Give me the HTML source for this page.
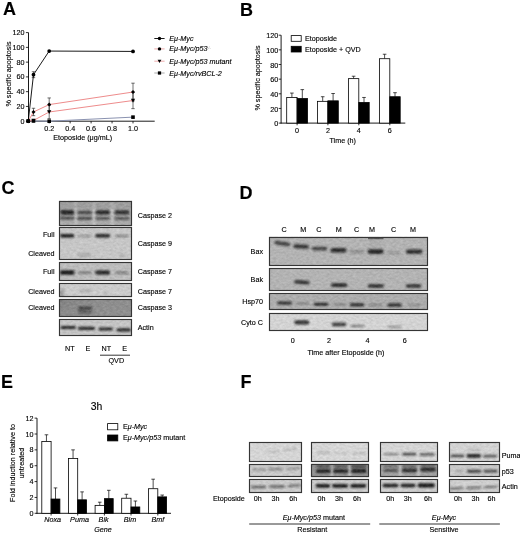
<!DOCTYPE html>
<html><head><meta charset="utf-8"><title>Figure</title>
<style>html,body{margin:0;padding:0;background:#fff;width:520px;height:533px;overflow:hidden}svg{display:block}text{stroke:#000;stroke-width:0.13px;fill:#000}</style>
</head><body>
<svg width="520" height="533" viewBox="0 0 520 533" font-family='"Liberation Sans", Arial, sans-serif'><defs><filter id="nz" x="0" y="0" width="1" height="1" color-interpolation-filters="sRGB"><feTurbulence type="fractalNoise" baseFrequency="0.3 0.5" numOctaves="2" seed="7" result="t"/><feColorMatrix in="t" type="matrix" values="1 0 0 0 0  1 0 0 0 0  1 0 0 0 0  0 0 0 0 1" result="g"/><feComposite in="SourceGraphic" in2="g" operator="arithmetic" k1="0" k2="1" k3="0.14" k4="-0.07"/></filter><filter id="b5" x="-50%" y="-100%" width="200%" height="300%"><feGaussianBlur stdDeviation="0.5"/></filter><filter id="b6" x="-50%" y="-100%" width="200%" height="300%"><feGaussianBlur stdDeviation="0.6"/></filter><filter id="b7" x="-50%" y="-100%" width="200%" height="300%"><feGaussianBlur stdDeviation="0.7"/></filter><filter id="b8" x="-50%" y="-100%" width="200%" height="300%"><feGaussianBlur stdDeviation="0.8"/></filter><filter id="b9" x="-50%" y="-100%" width="200%" height="300%"><feGaussianBlur stdDeviation="0.9"/></filter><filter id="b10" x="-50%" y="-100%" width="200%" height="300%"><feGaussianBlur stdDeviation="1.0"/></filter><filter id="b11" x="-50%" y="-100%" width="200%" height="300%"><feGaussianBlur stdDeviation="1.1"/></filter><filter id="b12" x="-50%" y="-100%" width="200%" height="300%"><feGaussianBlur stdDeviation="1.2"/></filter><filter id="b15" x="-50%" y="-100%" width="200%" height="300%"><feGaussianBlur stdDeviation="1.5"/></filter></defs><rect width="520" height="533" fill="#fff"/><text x="3.00" y="14.60" font-size="18" font-weight="bold" >A</text>
<text x="240.00" y="15.80" font-size="18" font-weight="bold" >B</text>
<text x="1.50" y="193.70" font-size="18" font-weight="bold" >C</text>
<text x="239.50" y="198.50" font-size="18" font-weight="bold" >D</text>
<text x="1.00" y="387.80" font-size="18" font-weight="bold" >E</text>
<text x="240.60" y="387.90" font-size="18" font-weight="bold" >F</text>
<line x1="28.50" y1="32.60" x2="28.50" y2="121.60" stroke="#000" stroke-width="0.9" />
<line x1="28.10" y1="121.20" x2="154.70" y2="121.20" stroke="#000" stroke-width="0.9" />
<line x1="25.90" y1="121.20" x2="28.50" y2="121.20" stroke="#000" stroke-width="0.8" />
<text x="24.60" y="123.70" font-size="7.2" text-anchor="end" >0</text>
<line x1="25.90" y1="106.43" x2="28.50" y2="106.43" stroke="#000" stroke-width="0.8" />
<text x="24.60" y="108.93" font-size="7.2" text-anchor="end" >20</text>
<line x1="25.90" y1="91.67" x2="28.50" y2="91.67" stroke="#000" stroke-width="0.8" />
<text x="24.60" y="94.17" font-size="7.2" text-anchor="end" >40</text>
<line x1="25.90" y1="76.90" x2="28.50" y2="76.90" stroke="#000" stroke-width="0.8" />
<text x="24.60" y="79.40" font-size="7.2" text-anchor="end" >60</text>
<line x1="25.90" y1="62.14" x2="28.50" y2="62.14" stroke="#000" stroke-width="0.8" />
<text x="24.60" y="64.64" font-size="7.2" text-anchor="end" >80</text>
<line x1="25.90" y1="47.37" x2="28.50" y2="47.37" stroke="#000" stroke-width="0.8" />
<text x="24.60" y="49.87" font-size="7.2" text-anchor="end" >100</text>
<line x1="25.90" y1="32.60" x2="28.50" y2="32.60" stroke="#000" stroke-width="0.8" />
<text x="24.60" y="35.10" font-size="7.2" text-anchor="end" >120</text>
<line x1="49.20" y1="121.20" x2="49.20" y2="123.40" stroke="#000" stroke-width="0.8" />
<text x="49.20" y="131.00" font-size="7.2" text-anchor="middle" >0.2</text>
<line x1="70.15" y1="121.20" x2="70.15" y2="123.40" stroke="#000" stroke-width="0.8" />
<text x="70.15" y="131.00" font-size="7.2" text-anchor="middle" >0.4</text>
<line x1="91.10" y1="121.20" x2="91.10" y2="123.40" stroke="#000" stroke-width="0.8" />
<text x="91.10" y="131.00" font-size="7.2" text-anchor="middle" >0.6</text>
<line x1="112.05" y1="121.20" x2="112.05" y2="123.40" stroke="#000" stroke-width="0.8" />
<text x="112.05" y="131.00" font-size="7.2" text-anchor="middle" >0.8</text>
<line x1="133.00" y1="121.20" x2="133.00" y2="123.40" stroke="#000" stroke-width="0.8" />
<text x="133.00" y="131.00" font-size="7.2" text-anchor="middle" >1.0</text>
<text x="82.70" y="139.60" font-size="7.2" text-anchor="middle" >Etoposide (&#956;g/mL)</text>
<text x="0" y="0" font-size="7.2" text-anchor="middle" transform="translate(10.6,74) rotate(-90)">% specific apoptosis</text>
<line x1="33.49" y1="71.73" x2="33.49" y2="77.64" stroke="#222" stroke-width="0.65" />
<line x1="31.79" y1="71.73" x2="35.19" y2="71.73" stroke="#222" stroke-width="0.65" />
<line x1="31.79" y1="77.64" x2="35.19" y2="77.64" stroke="#222" stroke-width="0.65" />
<line x1="33.49" y1="108.28" x2="33.49" y2="115.66" stroke="#222" stroke-width="0.65" />
<line x1="31.79" y1="108.28" x2="35.19" y2="108.28" stroke="#222" stroke-width="0.65" />
<line x1="31.79" y1="115.66" x2="35.19" y2="115.66" stroke="#222" stroke-width="0.65" />
<line x1="49.20" y1="97.94" x2="49.20" y2="111.23" stroke="#222" stroke-width="0.65" />
<line x1="47.50" y1="97.94" x2="50.90" y2="97.94" stroke="#222" stroke-width="0.65" />
<line x1="47.50" y1="111.23" x2="50.90" y2="111.23" stroke="#222" stroke-width="0.65" />
<line x1="133.00" y1="83.18" x2="133.00" y2="100.90" stroke="#222" stroke-width="0.65" />
<line x1="131.30" y1="83.18" x2="134.70" y2="83.18" stroke="#222" stroke-width="0.65" />
<line x1="131.30" y1="100.90" x2="134.70" y2="100.90" stroke="#222" stroke-width="0.65" />
<line x1="49.20" y1="105.33" x2="49.20" y2="118.62" stroke="#222" stroke-width="0.65" />
<line x1="47.50" y1="105.33" x2="50.90" y2="105.33" stroke="#222" stroke-width="0.65" />
<line x1="47.50" y1="118.62" x2="50.90" y2="118.62" stroke="#222" stroke-width="0.65" />
<line x1="133.00" y1="92.41" x2="133.00" y2="108.65" stroke="#222" stroke-width="0.65" />
<line x1="131.30" y1="92.41" x2="134.70" y2="92.41" stroke="#222" stroke-width="0.65" />
<line x1="131.30" y1="108.65" x2="134.70" y2="108.65" stroke="#222" stroke-width="0.65" />
<polyline points="28.25,121.20 33.49,120.98 49.20,121.20 133.00,117.14" fill="none" stroke="#8a92b0" stroke-width="1.0"/>
<polyline points="28.25,121.20 33.49,120.46 49.20,111.97 133.00,100.53" fill="none" stroke="#ee8c8c" stroke-width="1.0"/>
<polyline points="28.25,121.20 33.49,111.97 49.20,104.59 133.00,92.04" fill="none" stroke="#ee8c8c" stroke-width="1.0"/>
<polyline points="28.25,121.20 33.49,74.69 49.20,51.06 133.00,51.43" fill="none" stroke="#000" stroke-width="0.9"/>
<rect x="26.45" y="119.40" width="3.60" height="3.60" fill="#000"/>
<rect x="31.69" y="119.18" width="3.60" height="3.60" fill="#000"/>
<rect x="47.40" y="119.40" width="3.60" height="3.60" fill="#000"/>
<rect x="131.20" y="115.34" width="3.60" height="3.60" fill="#000"/>
<polygon points="26.15,119.52 30.35,119.52 28.25,123.30" fill="#000"/>
<polygon points="31.39,118.78 35.59,118.78 33.49,122.56" fill="#000"/>
<polygon points="47.10,110.29 51.30,110.29 49.20,114.07" fill="#000"/>
<polygon points="130.90,98.85 135.10,98.85 133.00,102.63" fill="#000"/>
<polygon points="28.25,119.20 30.25,121.20 28.25,123.20 26.25,121.20" fill="#000"/>
<polygon points="33.49,109.97 35.49,111.97 33.49,113.97 31.49,111.97" fill="#000"/>
<polygon points="49.20,102.59 51.20,104.59 49.20,106.59 47.20,104.59" fill="#000"/>
<polygon points="133.00,90.04 135.00,92.04 133.00,94.04 131.00,92.04" fill="#000"/>
<circle cx="28.25" cy="121.20" r="1.90" fill="#000"/>
<circle cx="33.49" cy="74.69" r="1.90" fill="#000"/>
<circle cx="49.20" cy="51.06" r="1.90" fill="#000"/>
<circle cx="133.00" cy="51.43" r="1.90" fill="#000"/>
<line x1="154.30" y1="38.50" x2="164.60" y2="38.50" stroke="#000" stroke-width="0.9" />
<circle cx="159.50" cy="38.50" r="1.71" fill="#000"/>
<text x="169.20" y="41.00" font-size="7.2" font-style="italic" >E&#956;-Myc</text>
<line x1="154.30" y1="48.90" x2="164.60" y2="48.90" stroke="#eaa0a0" stroke-width="0.9" />
<circle cx="159.50" cy="48.90" r="1.71" fill="#000"/>
<text x="169.20" y="51.40" font-size="7.2" font-style="italic" >E&#956;-Myc/p53<tspan font-size="3.4" dy="-2.8" fill="#aaa" stroke="none">-/-</tspan></text>
<line x1="154.30" y1="61.20" x2="164.60" y2="61.20" stroke="#eaa0a0" stroke-width="0.9" />
<polygon points="157.61,59.69 161.39,59.69 159.50,63.09" fill="#000"/>
<text x="169.20" y="63.70" font-size="7.2" font-style="italic" >E&#956;-Myc/p53 mutant</text>
<line x1="154.30" y1="73.00" x2="164.60" y2="73.00" stroke="#a0a0a0" stroke-width="0.9" />
<rect x="157.88" y="71.38" width="3.24" height="3.24" fill="#000"/>
<text x="169.20" y="75.50" font-size="7.2" font-style="italic" >E&#956;-Myc/rvBCL-2</text>
<line x1="281.10" y1="35.20" x2="281.10" y2="123.50" stroke="#000" stroke-width="0.9" />
<line x1="280.70" y1="123.10" x2="405.30" y2="123.10" stroke="#000" stroke-width="0.9" />
<line x1="278.70" y1="123.10" x2="281.10" y2="123.10" stroke="#000" stroke-width="0.8" />
<text x="278.30" y="126.20" font-size="7.2" text-anchor="end" >0</text>
<line x1="278.70" y1="108.45" x2="281.10" y2="108.45" stroke="#000" stroke-width="0.8" />
<text x="278.30" y="111.55" font-size="7.2" text-anchor="end" >20</text>
<line x1="278.70" y1="93.80" x2="281.10" y2="93.80" stroke="#000" stroke-width="0.8" />
<text x="278.30" y="96.90" font-size="7.2" text-anchor="end" >40</text>
<line x1="278.70" y1="79.15" x2="281.10" y2="79.15" stroke="#000" stroke-width="0.8" />
<text x="278.30" y="82.25" font-size="7.2" text-anchor="end" >60</text>
<line x1="278.70" y1="64.50" x2="281.10" y2="64.50" stroke="#000" stroke-width="0.8" />
<text x="278.30" y="67.60" font-size="7.2" text-anchor="end" >80</text>
<line x1="278.70" y1="49.85" x2="281.10" y2="49.85" stroke="#000" stroke-width="0.8" />
<text x="278.30" y="52.95" font-size="7.2" text-anchor="end" >100</text>
<line x1="278.70" y1="35.20" x2="281.10" y2="35.20" stroke="#000" stroke-width="0.8" />
<text x="278.30" y="38.30" font-size="7.2" text-anchor="end" >120</text>
<line x1="297.10" y1="123.10" x2="297.10" y2="125.30" stroke="#000" stroke-width="0.8" />
<text x="297.10" y="133.30" font-size="7.2" text-anchor="middle" >0</text>
<line x1="291.90" y1="93.07" x2="291.90" y2="97.46" stroke="#000" stroke-width="0.7" />
<line x1="290.10" y1="93.07" x2="293.70" y2="93.07" stroke="#000" stroke-width="0.7" />
<rect x="286.70" y="97.46" width="10.40" height="25.64" fill="#fff" stroke="#000" stroke-width="0.8" />
<line x1="302.30" y1="89.62" x2="302.30" y2="98.56" stroke="#000" stroke-width="0.7" />
<line x1="300.50" y1="89.62" x2="304.10" y2="89.62" stroke="#000" stroke-width="0.7" />
<rect x="297.10" y="98.56" width="10.40" height="24.54" fill="#000" stroke="#000" stroke-width="0.8" />
<line x1="327.90" y1="123.10" x2="327.90" y2="125.30" stroke="#000" stroke-width="0.8" />
<text x="327.90" y="133.30" font-size="7.2" text-anchor="middle" >2</text>
<line x1="322.70" y1="96.73" x2="322.70" y2="101.34" stroke="#000" stroke-width="0.7" />
<line x1="320.90" y1="96.73" x2="324.50" y2="96.73" stroke="#000" stroke-width="0.7" />
<rect x="317.50" y="101.34" width="10.40" height="21.76" fill="#fff" stroke="#000" stroke-width="0.8" />
<line x1="333.10" y1="93.51" x2="333.10" y2="100.83" stroke="#000" stroke-width="0.7" />
<line x1="331.30" y1="93.51" x2="334.90" y2="93.51" stroke="#000" stroke-width="0.7" />
<rect x="327.90" y="100.83" width="10.40" height="22.27" fill="#000" stroke="#000" stroke-width="0.8" />
<line x1="358.80" y1="123.10" x2="358.80" y2="125.30" stroke="#000" stroke-width="0.8" />
<text x="358.80" y="133.30" font-size="7.2" text-anchor="middle" >4</text>
<line x1="353.60" y1="76.22" x2="353.60" y2="78.64" stroke="#000" stroke-width="0.7" />
<line x1="351.80" y1="76.22" x2="355.40" y2="76.22" stroke="#000" stroke-width="0.7" />
<rect x="348.40" y="78.64" width="10.40" height="44.46" fill="#fff" stroke="#000" stroke-width="0.8" />
<line x1="364.00" y1="97.46" x2="364.00" y2="102.44" stroke="#000" stroke-width="0.7" />
<line x1="362.20" y1="97.46" x2="365.80" y2="97.46" stroke="#000" stroke-width="0.7" />
<rect x="358.80" y="102.44" width="10.40" height="20.66" fill="#000" stroke="#000" stroke-width="0.8" />
<line x1="389.80" y1="123.10" x2="389.80" y2="125.30" stroke="#000" stroke-width="0.8" />
<text x="389.80" y="133.30" font-size="7.2" text-anchor="middle" >6</text>
<line x1="384.60" y1="54.24" x2="384.60" y2="58.71" stroke="#000" stroke-width="0.7" />
<line x1="382.80" y1="54.24" x2="386.40" y2="54.24" stroke="#000" stroke-width="0.7" />
<rect x="379.40" y="58.71" width="10.40" height="64.39" fill="#fff" stroke="#000" stroke-width="0.8" />
<line x1="395.00" y1="92.70" x2="395.00" y2="96.73" stroke="#000" stroke-width="0.7" />
<line x1="393.20" y1="92.70" x2="396.80" y2="92.70" stroke="#000" stroke-width="0.7" />
<rect x="389.80" y="96.73" width="10.40" height="26.37" fill="#000" stroke="#000" stroke-width="0.8" />
<rect x="291.20" y="35.60" width="10.00" height="5.70" fill="#fff" stroke="#000" stroke-width="0.8" />
<rect x="291.20" y="46.30" width="10.00" height="5.70" fill="#000" stroke="#000" stroke-width="0.8" />
<text x="305.00" y="41.10" font-size="7.2" >Etoposide</text>
<text x="305.00" y="51.90" font-size="7.2" >Etoposide + QVD</text>
<text x="342.70" y="142.60" font-size="7.2" text-anchor="middle" >Time (h)</text>
<text x="0" y="0" font-size="7.2" text-anchor="middle" transform="translate(260,78) rotate(-90)">% specific apoptosis</text>
<line x1="37.00" y1="418.14" x2="37.00" y2="513.70" stroke="#000" stroke-width="0.9" />
<line x1="36.60" y1="513.30" x2="171.00" y2="513.30" stroke="#000" stroke-width="0.9" />
<line x1="34.60" y1="513.30" x2="37.00" y2="513.30" stroke="#000" stroke-width="0.8" />
<text x="33.40" y="515.80" font-size="7.2" text-anchor="end" >0</text>
<line x1="34.60" y1="497.44" x2="37.00" y2="497.44" stroke="#000" stroke-width="0.8" />
<text x="33.40" y="499.94" font-size="7.2" text-anchor="end" >2</text>
<line x1="34.60" y1="481.58" x2="37.00" y2="481.58" stroke="#000" stroke-width="0.8" />
<text x="33.40" y="484.08" font-size="7.2" text-anchor="end" >4</text>
<line x1="34.60" y1="465.72" x2="37.00" y2="465.72" stroke="#000" stroke-width="0.8" />
<text x="33.40" y="468.22" font-size="7.2" text-anchor="end" >6</text>
<line x1="34.60" y1="449.86" x2="37.00" y2="449.86" stroke="#000" stroke-width="0.8" />
<text x="33.40" y="452.36" font-size="7.2" text-anchor="end" >8</text>
<line x1="34.60" y1="434.00" x2="37.00" y2="434.00" stroke="#000" stroke-width="0.8" />
<text x="33.40" y="436.50" font-size="7.2" text-anchor="end" >10</text>
<line x1="34.60" y1="418.14" x2="37.00" y2="418.14" stroke="#000" stroke-width="0.8" />
<text x="33.40" y="420.64" font-size="7.2" text-anchor="end" >12</text>
<line x1="51.10" y1="513.30" x2="51.10" y2="515.50" stroke="#000" stroke-width="0.8" />
<line x1="46.45" y1="434.79" x2="46.45" y2="441.53" stroke="#000" stroke-width="0.7" />
<line x1="44.65" y1="434.79" x2="48.25" y2="434.79" stroke="#000" stroke-width="0.7" />
<rect x="41.80" y="441.53" width="9.30" height="71.77" fill="#fff" stroke="#000" stroke-width="0.8" />
<line x1="55.50" y1="487.92" x2="55.50" y2="499.03" stroke="#000" stroke-width="0.7" />
<line x1="53.70" y1="487.92" x2="57.30" y2="487.92" stroke="#000" stroke-width="0.7" />
<rect x="51.10" y="499.03" width="8.80" height="14.27" fill="#000" stroke="#000" stroke-width="0.8" />
<line x1="77.70" y1="513.30" x2="77.70" y2="515.50" stroke="#000" stroke-width="0.8" />
<line x1="73.05" y1="449.86" x2="73.05" y2="458.58" stroke="#000" stroke-width="0.7" />
<line x1="71.25" y1="449.86" x2="74.85" y2="449.86" stroke="#000" stroke-width="0.7" />
<rect x="68.40" y="458.58" width="9.30" height="54.72" fill="#fff" stroke="#000" stroke-width="0.8" />
<line x1="82.10" y1="491.89" x2="82.10" y2="499.82" stroke="#000" stroke-width="0.7" />
<line x1="80.30" y1="491.89" x2="83.90" y2="491.89" stroke="#000" stroke-width="0.7" />
<rect x="77.70" y="499.82" width="8.80" height="13.48" fill="#000" stroke="#000" stroke-width="0.8" />
<line x1="104.40" y1="513.30" x2="104.40" y2="515.50" stroke="#000" stroke-width="0.8" />
<line x1="99.75" y1="502.20" x2="99.75" y2="505.37" stroke="#000" stroke-width="0.7" />
<line x1="97.95" y1="502.20" x2="101.55" y2="502.20" stroke="#000" stroke-width="0.7" />
<rect x="95.10" y="505.37" width="9.30" height="7.93" fill="#fff" stroke="#000" stroke-width="0.8" />
<line x1="108.80" y1="490.30" x2="108.80" y2="498.63" stroke="#000" stroke-width="0.7" />
<line x1="107.00" y1="490.30" x2="110.60" y2="490.30" stroke="#000" stroke-width="0.7" />
<rect x="104.40" y="498.63" width="8.80" height="14.67" fill="#000" stroke="#000" stroke-width="0.8" />
<line x1="131.00" y1="513.30" x2="131.00" y2="515.50" stroke="#000" stroke-width="0.8" />
<line x1="126.35" y1="494.27" x2="126.35" y2="498.23" stroke="#000" stroke-width="0.7" />
<line x1="124.55" y1="494.27" x2="128.15" y2="494.27" stroke="#000" stroke-width="0.7" />
<rect x="121.70" y="498.23" width="9.30" height="15.07" fill="#fff" stroke="#000" stroke-width="0.8" />
<line x1="135.40" y1="501.01" x2="135.40" y2="506.96" stroke="#000" stroke-width="0.7" />
<line x1="133.60" y1="501.01" x2="137.20" y2="501.01" stroke="#000" stroke-width="0.7" />
<rect x="131.00" y="506.96" width="8.80" height="6.34" fill="#000" stroke="#000" stroke-width="0.8" />
<line x1="157.80" y1="513.30" x2="157.80" y2="515.50" stroke="#000" stroke-width="0.8" />
<line x1="153.15" y1="479.20" x2="153.15" y2="488.72" stroke="#000" stroke-width="0.7" />
<line x1="151.35" y1="479.20" x2="154.95" y2="479.20" stroke="#000" stroke-width="0.7" />
<rect x="148.50" y="488.72" width="9.30" height="24.58" fill="#fff" stroke="#000" stroke-width="0.8" />
<line x1="162.20" y1="495.06" x2="162.20" y2="496.88" stroke="#000" stroke-width="0.7" />
<line x1="160.40" y1="495.06" x2="164.00" y2="495.06" stroke="#000" stroke-width="0.7" />
<rect x="157.80" y="496.88" width="8.80" height="16.42" fill="#000" stroke="#000" stroke-width="0.8" />
<text x="52.60" y="522.20" font-size="7.2" text-anchor="middle" font-style="italic" >Noxa</text>
<text x="79.50" y="522.20" font-size="7.2" text-anchor="middle" font-style="italic" >Puma</text>
<text x="103.60" y="522.20" font-size="7.2" text-anchor="middle" font-style="italic" >Bik</text>
<text x="130.00" y="522.20" font-size="7.2" text-anchor="middle" font-style="italic" >Bim</text>
<text x="157.80" y="522.20" font-size="7.2" text-anchor="middle" font-style="italic" >Bmf</text>
<text x="103.00" y="532.00" font-size="7.2" text-anchor="middle" font-style="italic" >Gene</text>
<text x="96.50" y="409.80" font-size="10.4" text-anchor="middle" >3h</text>
<rect x="107.60" y="423.60" width="10.20" height="6.20" fill="#fff" stroke="#000" stroke-width="0.8" />
<rect x="107.60" y="435.00" width="10.20" height="5.90" fill="#000" stroke="#000" stroke-width="0.8" />
<text x="122.90" y="428.60" font-size="7.2" >E<tspan font-style="italic">&#956;-Myc</tspan></text>
<text x="122.90" y="440.40" font-size="7.2" >E<tspan font-style="italic">&#956;-Myc/p53</tspan> mutant</text>
<text x="0" y="0" font-size="7.2" text-anchor="middle" transform="translate(15.2,463) rotate(-90)">Fold induction relative to</text>
<text x="0" y="0" font-size="7.2" text-anchor="middle" transform="translate(23.7,463) rotate(-90)">untreated</text>
<clipPath id="c202"><rect x="59.50" y="201.50" width="72.00" height="24.00"/></clipPath>
<g filter="url(#nz)">
<rect x="59.50" y="201.50" width="72.00" height="24.00" fill="#aaaaaa" stroke="none" stroke-width="0.8" />
<g clip-path="url(#c202)">
<rect x="74.00" y="200" width="3.2" height="28" fill="#d0d0d0" fill-opacity="0.55" filter="url(#b8)"/>
<rect x="92.20" y="200" width="3.2" height="28" fill="#d0d0d0" fill-opacity="0.55" filter="url(#b8)"/>
<rect x="110.60" y="200" width="3.2" height="28" fill="#d0d0d0" fill-opacity="0.55" filter="url(#b8)"/>
<rect x="59.3" y="201" width="72.60000000000001" height="8" fill="#808080" fill-opacity="0.3" filter="url(#b10)"/>
<rect x="59.95" y="210.10" width="14.50" height="4.60" rx="2.30" fill="#1a1a1a" fill-opacity="0.90" filter="url(#b8)"/>
<rect x="77.20" y="210.70" width="15.00" height="3.80" rx="1.90" fill="#1a1a1a" fill-opacity="0.68" filter="url(#b8)"/>
<rect x="95.45" y="210.20" width="14.50" height="4.40" rx="2.20" fill="#1a1a1a" fill-opacity="0.90" filter="url(#b8)"/>
<rect x="114.40" y="210.20" width="15.00" height="4.40" rx="2.20" fill="#1a1a1a" fill-opacity="0.85" filter="url(#b8)"/>
<rect x="59.95" y="216.80" width="14.50" height="2.80" rx="1.40" fill="#1a1a1a" fill-opacity="0.70" filter="url(#b8)"/>
<rect x="77.20" y="216.90" width="15.00" height="2.80" rx="1.40" fill="#1a1a1a" fill-opacity="0.72" filter="url(#b8)"/>
<rect x="95.45" y="216.90" width="14.50" height="2.80" rx="1.40" fill="#1a1a1a" fill-opacity="0.62" filter="url(#b8)"/>
<rect x="114.40" y="217.00" width="15.00" height="2.80" rx="1.40" fill="#1a1a1a" fill-opacity="0.62" filter="url(#b8)"/>
</g></g>
<rect x="59.50" y="201.50" width="72.00" height="24.00" fill="none" stroke="#353535" stroke-width="1.15" />
<clipPath id="c220"><rect x="59.50" y="227.50" width="72.00" height="32.00"/></clipPath>
<g filter="url(#nz)">
<rect x="59.50" y="227.50" width="72.00" height="32.00" fill="#c6c6c6" stroke="none" stroke-width="0.8" />
<g clip-path="url(#c220)">
<rect x="59.95" y="234.00" width="14.50" height="3.60" rx="1.80" fill="#1a1a1a" fill-opacity="1.00" filter="url(#b8)"/>
<rect x="78.20" y="235.30" width="13.00" height="1.80" rx="0.90" fill="#1a1a1a" fill-opacity="0.40" filter="url(#b8)"/>
<rect x="95.20" y="234.10" width="15.00" height="3.40" rx="1.70" fill="#1a1a1a" fill-opacity="0.95" filter="url(#b8)"/>
<rect x="115.40" y="235.00" width="13.00" height="2.00" rx="1.00" fill="#1a1a1a" fill-opacity="0.45" filter="url(#b8)"/>
<rect x="78.20" y="253.30" width="13.00" height="3.40" rx="1.70" fill="#1a1a1a" fill-opacity="0.18" filter="url(#b8)"/>
<rect x="118.90" y="253.70" width="6.00" height="3.00" rx="1.50" fill="#1a1a1a" fill-opacity="0.12" filter="url(#b8)"/>
</g></g>
<rect x="59.50" y="227.50" width="72.00" height="32.00" fill="none" stroke="#353535" stroke-width="1.15" />
<clipPath id="c232"><rect x="59.50" y="262.50" width="72.00" height="18.00"/></clipPath>
<g filter="url(#nz)">
<rect x="59.50" y="262.50" width="72.00" height="18.00" fill="#bcbcbc" stroke="none" stroke-width="0.8" />
<g clip-path="url(#c232)">
<rect x="59.70" y="270.20" width="15.00" height="4.60" rx="2.30" fill="#1a1a1a" fill-opacity="1.00" filter="url(#b8)"/>
<rect x="78.20" y="271.80" width="13.00" height="2.00" rx="1.00" fill="#1a1a1a" fill-opacity="0.50" filter="url(#b8)"/>
<rect x="95.20" y="270.50" width="15.00" height="4.00" rx="2.00" fill="#1a1a1a" fill-opacity="0.95" filter="url(#b8)"/>
<rect x="115.40" y="271.80" width="13.00" height="2.00" rx="1.00" fill="#1a1a1a" fill-opacity="0.50" filter="url(#b8)"/>
</g></g>
<rect x="59.50" y="262.50" width="72.00" height="18.00" fill="none" stroke="#353535" stroke-width="1.15" />
<clipPath id="c242"><rect x="59.50" y="283.50" width="72.00" height="13.00"/></clipPath>
<g filter="url(#nz)">
<rect x="59.50" y="283.50" width="72.00" height="13.00" fill="#cbcbcb" stroke="none" stroke-width="0.8" />
<g clip-path="url(#c242)">
<rect x="59.3" y="289" width="5" height="9" fill="#707070" fill-opacity="0.5" filter="url(#b15)"/>
<rect x="79.20" y="289.10" width="13.00" height="3.40" rx="1.70" fill="#1a1a1a" fill-opacity="0.13" filter="url(#b8)"/>
<rect x="104.05" y="291.40" width="3.50" height="4.00" rx="2.00" fill="#1a1a1a" fill-opacity="0.12" filter="url(#b8)"/>
</g></g>
<rect x="59.50" y="283.50" width="72.00" height="13.00" fill="none" stroke="#353535" stroke-width="1.15" />
<clipPath id="c251"><rect x="59.50" y="299.50" width="72.00" height="17.00"/></clipPath>
<g filter="url(#nz)">
<rect x="59.50" y="299.50" width="72.00" height="17.00" fill="#8e8e8e" stroke="none" stroke-width="0.8" />
<g clip-path="url(#c251)">
<linearGradient id="g3" x1="0" y1="0" x2="1" y2="0.3"><stop offset="0" stop-color="#7a7a7a" stop-opacity="0.6"/><stop offset="0.5" stop-color="#8a8a8a" stop-opacity="0.25"/><stop offset="1" stop-color="#9a9a9a" stop-opacity="0"/></linearGradient>
<rect x="59.3" y="299" width="72.60000000000001" height="18" fill="url(#g3)"/>
<rect x="78.00" y="306.80" width="14.00" height="2.80" rx="1.40" fill="#1a1a1a" fill-opacity="0.70" filter="url(#b8)"/>
<rect x="78.00" y="310.60" width="14.00" height="2.60" rx="1.30" fill="#1a1a1a" fill-opacity="0.50" filter="url(#b8)"/>
</g></g>
<rect x="59.50" y="299.50" width="72.00" height="17.00" fill="none" stroke="#353535" stroke-width="1.15" />
<clipPath id="c261"><rect x="59.50" y="319.50" width="72.00" height="16.00"/></clipPath>
<g filter="url(#nz)">
<rect x="59.50" y="319.50" width="72.00" height="16.00" fill="#c4c4c4" stroke="none" stroke-width="0.8" />
<g clip-path="url(#c261)">
<rect x="60.45" y="326.10" width="15.50" height="3.00" rx="1.50" fill="#1a1a1a" fill-opacity="0.92" filter="url(#b8)"/>
<rect x="78.00" y="326.80" width="17.00" height="3.20" rx="1.60" fill="#1a1a1a" fill-opacity="0.92" filter="url(#b8)"/>
<rect x="98.45" y="327.60" width="14.50" height="2.80" rx="1.40" fill="#1a1a1a" fill-opacity="0.90" filter="url(#b8)"/>
<rect x="116.55" y="328.20" width="14.50" height="3.20" rx="1.60" fill="#1a1a1a" fill-opacity="0.92" filter="url(#b8)"/>
</g></g>
<rect x="59.50" y="319.50" width="72.00" height="16.00" fill="none" stroke="#353535" stroke-width="1.15" />
<text x="54.50" y="237.20" font-size="7.2" text-anchor="end" >Full</text>
<text x="54.50" y="256.10" font-size="7.2" text-anchor="end" >Cleaved</text>
<text x="54.50" y="273.80" font-size="7.2" text-anchor="end" >Full</text>
<text x="54.50" y="294.10" font-size="7.2" text-anchor="end" >Cleaved</text>
<text x="54.50" y="310.40" font-size="7.2" text-anchor="end" >Cleaved</text>
<text x="137.70" y="217.80" font-size="7.2" >Caspase 2</text>
<text x="137.70" y="246.00" font-size="7.2" >Caspase 9</text>
<text x="137.70" y="273.60" font-size="7.2" >Caspase 7</text>
<text x="137.70" y="293.90" font-size="7.2" >Caspase 7</text>
<text x="137.70" y="310.30" font-size="7.2" >Caspase 3</text>
<text x="137.70" y="330.00" font-size="7.2" >Actin</text>
<text x="69.80" y="350.80" font-size="7.2" text-anchor="middle" >NT</text>
<text x="88.00" y="350.80" font-size="7.2" text-anchor="middle" >E</text>
<text x="106.30" y="350.80" font-size="7.2" text-anchor="middle" >NT</text>
<text x="124.60" y="350.80" font-size="7.2" text-anchor="middle" >E</text>
<line x1="100.00" y1="355.20" x2="130.00" y2="355.20" stroke="#000" stroke-width="0.8" />
<text x="116.30" y="363.30" font-size="7.2" text-anchor="middle" >QVD</text>
<clipPath id="c288"><rect x="269.50" y="237.50" width="158.00" height="28.00"/></clipPath>
<g filter="url(#nz)">
<rect x="269.50" y="237.50" width="158.00" height="28.00" fill="#b3b3b3" stroke="none" stroke-width="0.8" />
<g clip-path="url(#c288)">
<rect x="368" y="236" width="15.5" height="3.2" fill="#303030" fill-opacity="0.7" filter="url(#b6)"/>
<rect x="369" y="238" width="13.5" height="11" fill="#808080" fill-opacity="0.12" filter="url(#b10)"/>
<rect x="274.30" y="241.70" width="16.00" height="3.60" rx="1.80" fill="#1a1a1a" fill-opacity="0.80" filter="url(#b8)" transform="rotate(9 282.30 243.50)"/>
<rect x="293.45" y="244.60" width="15.50" height="4.00" rx="2.00" fill="#1a1a1a" fill-opacity="0.85" filter="url(#b8)" transform="rotate(3 301.20 246.60)"/>
<rect x="311.85" y="246.80" width="15.50" height="3.60" rx="1.80" fill="#1a1a1a" fill-opacity="0.72" filter="url(#b8)"/>
<rect x="330.50" y="247.90" width="16.00" height="4.60" rx="2.30" fill="#1a1a1a" fill-opacity="0.88" filter="url(#b8)"/>
<rect x="350.00" y="250.60" width="14.00" height="2.40" rx="1.20" fill="#1a1a1a" fill-opacity="0.32" filter="url(#b8)"/>
<rect x="367.60" y="249.20" width="16.00" height="4.80" rx="2.40" fill="#1a1a1a" fill-opacity="0.90" filter="url(#b8)"/>
<rect x="387.50" y="251.70" width="13.00" height="2.20" rx="1.10" fill="#1a1a1a" fill-opacity="0.26" filter="url(#b8)"/>
<rect x="405.95" y="249.40" width="16.50" height="4.40" rx="2.20" fill="#1a1a1a" fill-opacity="0.88" filter="url(#b8)"/>
</g></g>
<rect x="269.50" y="237.50" width="158.00" height="28.00" fill="none" stroke="#353535" stroke-width="1.15" />
<clipPath id="c304"><rect x="269.50" y="268.50" width="158.00" height="22.00"/></clipPath>
<g filter="url(#nz)">
<rect x="269.50" y="268.50" width="158.00" height="22.00" fill="#b3b3b3" stroke="none" stroke-width="0.8" />
<g clip-path="url(#c304)">
<rect x="294.15" y="280.40" width="15.50" height="3.60" rx="1.80" fill="#1a1a1a" fill-opacity="0.88" filter="url(#b8)" transform="rotate(4 301.90 282.20)"/>
<rect x="331.20" y="283.30" width="16.00" height="3.80" rx="1.90" fill="#1a1a1a" fill-opacity="0.90" filter="url(#b8)"/>
<rect x="367.80" y="284.20" width="16.00" height="3.60" rx="1.80" fill="#1a1a1a" fill-opacity="0.90" filter="url(#b8)"/>
<rect x="405.85" y="284.30" width="15.50" height="3.40" rx="1.70" fill="#1a1a1a" fill-opacity="0.85" filter="url(#b8)"/>
</g></g>
<rect x="269.50" y="268.50" width="158.00" height="22.00" fill="none" stroke="#353535" stroke-width="1.15" />
<clipPath id="c314"><rect x="269.50" y="293.50" width="158.00" height="16.00"/></clipPath>
<g filter="url(#nz)">
<rect x="269.50" y="293.50" width="158.00" height="16.00" fill="#adadad" stroke="none" stroke-width="0.8" />
<g clip-path="url(#c314)">
<rect x="277.10" y="301.40" width="15.00" height="3.00" rx="1.50" fill="#1a1a1a" fill-opacity="0.85" filter="url(#b8)"/>
<rect x="296.00" y="302.70" width="13.00" height="1.60" rx="0.80" fill="#1a1a1a" fill-opacity="0.40" filter="url(#b8)"/>
<rect x="313.75" y="302.70" width="14.50" height="3.00" rx="1.50" fill="#1a1a1a" fill-opacity="0.88" filter="url(#b8)"/>
<rect x="333.10" y="303.70" width="13.00" height="1.60" rx="0.80" fill="#1a1a1a" fill-opacity="0.40" filter="url(#b8)"/>
<rect x="349.75" y="303.30" width="14.50" height="3.00" rx="1.50" fill="#1a1a1a" fill-opacity="0.90" filter="url(#b8)"/>
<rect x="369.00" y="304.10" width="13.00" height="1.60" rx="0.80" fill="#1a1a1a" fill-opacity="0.40" filter="url(#b8)"/>
<rect x="387.25" y="303.50" width="14.50" height="3.00" rx="1.50" fill="#1a1a1a" fill-opacity="0.90" filter="url(#b8)"/>
<rect x="408.10" y="304.20" width="13.00" height="1.60" rx="0.80" fill="#1a1a1a" fill-opacity="0.38" filter="url(#b8)"/>
</g></g>
<rect x="269.50" y="293.50" width="158.00" height="16.00" fill="none" stroke="#353535" stroke-width="1.15" />
<clipPath id="c328"><rect x="269.50" y="313.50" width="158.00" height="17.00"/></clipPath>
<g filter="url(#nz)">
<rect x="269.50" y="313.50" width="158.00" height="17.00" fill="#d3d3d3" stroke="none" stroke-width="0.8" />
<g clip-path="url(#c328)">
<rect x="294.30" y="320.30" width="15.00" height="4.20" rx="2.10" fill="#1a1a1a" fill-opacity="0.85" filter="url(#b9)"/>
<rect x="331.75" y="322.40" width="14.50" height="3.80" rx="1.90" fill="#1a1a1a" fill-opacity="0.80" filter="url(#b9)"/>
<rect x="350.75" y="324.90" width="13.50" height="1.80" rx="0.90" fill="#1a1a1a" fill-opacity="0.60" filter="url(#b8)"/>
<rect x="388.05" y="325.90" width="13.50" height="1.80" rx="0.90" fill="#1a1a1a" fill-opacity="0.45" filter="url(#b8)"/>
</g></g>
<rect x="269.50" y="313.50" width="158.00" height="17.00" fill="none" stroke="#353535" stroke-width="1.15" />
<text x="284.20" y="231.50" font-size="7.2" text-anchor="middle" >C</text>
<text x="303.30" y="231.50" font-size="7.2" text-anchor="middle" >M</text>
<text x="318.80" y="231.50" font-size="7.2" text-anchor="middle" >C</text>
<text x="338.70" y="231.50" font-size="7.2" text-anchor="middle" >M</text>
<text x="356.50" y="231.50" font-size="7.2" text-anchor="middle" >C</text>
<text x="371.90" y="231.50" font-size="7.2" text-anchor="middle" >M</text>
<text x="393.70" y="231.50" font-size="7.2" text-anchor="middle" >C</text>
<text x="413.00" y="231.50" font-size="7.2" text-anchor="middle" >M</text>
<text x="263.00" y="253.90" font-size="7.2" text-anchor="end" >Bax</text>
<text x="263.00" y="281.50" font-size="7.2" text-anchor="end" >Bak</text>
<text x="263.00" y="304.00" font-size="7.2" text-anchor="end" >Hsp70</text>
<text x="263.00" y="324.50" font-size="7.2" text-anchor="end" >Cyto C</text>
<text x="292.80" y="342.90" font-size="7.2" text-anchor="middle" >0</text>
<text x="329.00" y="342.90" font-size="7.2" text-anchor="middle" >2</text>
<text x="367.40" y="342.90" font-size="7.2" text-anchor="middle" >4</text>
<text x="404.70" y="342.90" font-size="7.2" text-anchor="middle" >6</text>
<text x="346.00" y="354.80" font-size="7.2" text-anchor="middle" >Time after Etoposide (h)</text>
<clipPath id="c355"><rect x="249.50" y="442.50" width="52.00" height="19.00"/></clipPath>
<g filter="url(#nz)">
<rect x="249.50" y="442.50" width="52.00" height="19.00" fill="#d5d5d5" stroke="none" stroke-width="0.8" />
<g clip-path="url(#c355)">
<rect x="266.00" y="450.80" width="14.00" height="2.00" rx="1.00" fill="#1a1a1a" fill-opacity="0.13" filter="url(#b8)"/>
<rect x="283.00" y="448.50" width="14.00" height="2.00" rx="1.00" fill="#1a1a1a" fill-opacity="0.16" filter="url(#b8)" transform="rotate(-8 290.00 449.50)"/>
</g></g>
<rect x="249.50" y="442.50" width="52.00" height="19.00" fill="none" stroke="#353535" stroke-width="1.15" />
<clipPath id="c363"><rect x="249.50" y="464.50" width="52.00" height="12.00"/></clipPath>
<g filter="url(#nz)">
<rect x="249.50" y="464.50" width="52.00" height="12.00" fill="#c9c9c9" stroke="none" stroke-width="0.8" />
<g clip-path="url(#c363)">
<rect x="252.00" y="468.50" width="14.00" height="2.20" rx="1.10" fill="#1a1a1a" fill-opacity="0.32" filter="url(#b8)"/>
<rect x="268.00" y="468.10" width="15.00" height="2.20" rx="1.10" fill="#1a1a1a" fill-opacity="0.42" filter="url(#b8)"/>
<rect x="286.00" y="467.40" width="14.00" height="2.00" rx="1.00" fill="#1a1a1a" fill-opacity="0.32" filter="url(#b8)" transform="rotate(-4 293.00 468.40)"/>
</g></g>
<rect x="249.50" y="464.50" width="52.00" height="12.00" fill="none" stroke="#353535" stroke-width="1.15" />
<clipPath id="c372"><rect x="249.50" y="479.50" width="52.00" height="13.00"/></clipPath>
<g filter="url(#nz)">
<rect x="249.50" y="479.50" width="52.00" height="13.00" fill="#cbcbcb" stroke="none" stroke-width="0.8" />
<g clip-path="url(#c372)">
<rect x="251.00" y="485.70" width="15.00" height="2.60" rx="1.30" fill="#1a1a1a" fill-opacity="0.62" filter="url(#b8)"/>
<rect x="269.00" y="485.20" width="16.00" height="2.60" rx="1.30" fill="#1a1a1a" fill-opacity="0.62" filter="url(#b8)"/>
<rect x="287.50" y="484.40" width="13.00" height="2.40" rx="1.20" fill="#1a1a1a" fill-opacity="0.58" filter="url(#b8)" transform="rotate(-5 294.00 485.60)"/>
</g></g>
<rect x="249.50" y="479.50" width="52.00" height="13.00" fill="none" stroke="#353535" stroke-width="1.15" />
<clipPath id="c381"><rect x="311.50" y="442.50" width="57.00" height="19.00"/></clipPath>
<g filter="url(#nz)">
<rect x="311.50" y="442.50" width="57.00" height="19.00" fill="#d6d6d6" stroke="none" stroke-width="0.8" />
<g clip-path="url(#c381)">
<rect x="317.30" y="451.60" width="13.00" height="2.00" rx="1.00" fill="#1a1a1a" fill-opacity="0.20" filter="url(#b8)"/>
<rect x="334.50" y="452.60" width="13.00" height="1.60" rx="0.80" fill="#1a1a1a" fill-opacity="0.12" filter="url(#b8)"/>
<rect x="352.20" y="452.50" width="14.00" height="1.80" rx="0.90" fill="#1a1a1a" fill-opacity="0.16" filter="url(#b8)"/>
</g></g>
<rect x="311.50" y="442.50" width="57.00" height="19.00" fill="none" stroke="#353535" stroke-width="1.15" />
<clipPath id="c390"><rect x="311.50" y="464.50" width="57.00" height="12.00"/></clipPath>
<g filter="url(#nz)">
<rect x="311.50" y="464.50" width="57.00" height="12.00" fill="#939393" stroke="none" stroke-width="0.8" />
<g clip-path="url(#c390)">
<rect x="330.30" y="463.00" width="3" height="15.00" fill="#e0e0e0" fill-opacity="0.5" filter="url(#b8)"/>
<rect x="348.00" y="463.00" width="3" height="15.00" fill="#e0e0e0" fill-opacity="0.5" filter="url(#b8)"/>
<rect x="316.00" y="469.20" width="15.00" height="3.80" rx="1.90" fill="#1a1a1a" fill-opacity="0.95" filter="url(#b8)"/>
<rect x="332.95" y="469.20" width="15.50" height="3.80" rx="1.90" fill="#1a1a1a" fill-opacity="0.95" filter="url(#b8)"/>
<rect x="351.05" y="469.10" width="15.50" height="4.00" rx="2.00" fill="#1a1a1a" fill-opacity="0.92" filter="url(#b8)"/>
<rect x="316.00" y="464.70" width="15.00" height="3.40" rx="1.70" fill="#1a1a1a" fill-opacity="0.50" filter="url(#b8)"/>
<rect x="333.20" y="464.70" width="15.00" height="3.40" rx="1.70" fill="#1a1a1a" fill-opacity="0.45" filter="url(#b8)"/>
<rect x="351.05" y="464.60" width="15.50" height="3.60" rx="1.80" fill="#1a1a1a" fill-opacity="0.60" filter="url(#b8)"/>
</g></g>
<rect x="311.50" y="464.50" width="57.00" height="12.00" fill="none" stroke="#353535" stroke-width="1.15" />
<clipPath id="c404"><rect x="311.50" y="479.50" width="57.00" height="13.00"/></clipPath>
<g filter="url(#nz)">
<rect x="311.50" y="479.50" width="57.00" height="13.00" fill="#c9c9c9" stroke="none" stroke-width="0.8" />
<g clip-path="url(#c404)">
<rect x="315.65" y="483.90" width="14.50" height="3.80" rx="1.90" fill="#1a1a1a" fill-opacity="1.00" filter="url(#b8)"/>
<rect x="332.00" y="483.90" width="16.00" height="3.80" rx="1.90" fill="#1a1a1a" fill-opacity="1.00" filter="url(#b8)"/>
<rect x="350.20" y="483.90" width="16.00" height="3.80" rx="1.90" fill="#1a1a1a" fill-opacity="1.00" filter="url(#b8)"/>
</g></g>
<rect x="311.50" y="479.50" width="57.00" height="13.00" fill="none" stroke="#353535" stroke-width="1.15" />
<clipPath id="c413"><rect x="380.50" y="442.50" width="57.00" height="19.00"/></clipPath>
<g filter="url(#nz)">
<rect x="380.50" y="442.50" width="57.00" height="19.00" fill="#d4d4d4" stroke="none" stroke-width="0.8" />
<g clip-path="url(#c413)">
<rect x="383.70" y="453.10" width="15.00" height="2.20" rx="1.10" fill="#1a1a1a" fill-opacity="0.42" filter="url(#b8)"/>
<rect x="402.30" y="452.80" width="14.00" height="2.80" rx="1.40" fill="#1a1a1a" fill-opacity="0.72" filter="url(#b8)"/>
<rect x="419.70" y="453.10" width="15.00" height="2.60" rx="1.30" fill="#1a1a1a" fill-opacity="0.62" filter="url(#b8)"/>
</g></g>
<rect x="380.50" y="442.50" width="57.00" height="19.00" fill="none" stroke="#353535" stroke-width="1.15" />
<clipPath id="c422"><rect x="380.50" y="464.50" width="57.00" height="12.00"/></clipPath>
<g filter="url(#nz)">
<rect x="380.50" y="464.50" width="57.00" height="12.00" fill="#a2a2a2" stroke="none" stroke-width="0.8" />
<g clip-path="url(#c422)">
<rect x="398.70" y="463.00" width="3" height="15.00" fill="#e0e0e0" fill-opacity="0.45" filter="url(#b8)"/>
<rect x="417.00" y="463.00" width="3" height="15.00" fill="#e0e0e0" fill-opacity="0.45" filter="url(#b8)"/>
<rect x="383.50" y="469.10" width="15.00" height="3.00" rx="1.50" fill="#1a1a1a" fill-opacity="0.62" filter="url(#b8)"/>
<rect x="401.75" y="468.40" width="15.50" height="3.80" rx="1.90" fill="#1a1a1a" fill-opacity="0.88" filter="url(#b8)"/>
<rect x="420.00" y="467.70" width="16.00" height="3.80" rx="1.90" fill="#1a1a1a" fill-opacity="0.90" filter="url(#b8)"/>
<rect x="383.50" y="464.70" width="15.00" height="3.00" rx="1.50" fill="#1a1a1a" fill-opacity="0.38" filter="url(#b8)"/>
<rect x="401.75" y="464.70" width="15.50" height="3.00" rx="1.50" fill="#1a1a1a" fill-opacity="0.42" filter="url(#b8)"/>
<rect x="420.00" y="464.30" width="16.00" height="3.00" rx="1.50" fill="#1a1a1a" fill-opacity="0.45" filter="url(#b8)"/>
</g></g>
<rect x="380.50" y="464.50" width="57.00" height="12.00" fill="none" stroke="#353535" stroke-width="1.15" />
<clipPath id="c436"><rect x="380.50" y="479.50" width="57.00" height="13.00"/></clipPath>
<g filter="url(#nz)">
<rect x="380.50" y="479.50" width="57.00" height="13.00" fill="#cdcdcd" stroke="none" stroke-width="0.8" />
<g clip-path="url(#c436)">
<rect x="382.50" y="483.70" width="16.00" height="3.60" rx="1.80" fill="#1a1a1a" fill-opacity="1.00" filter="url(#b8)"/>
<rect x="400.50" y="483.70" width="15.00" height="3.60" rx="1.80" fill="#1a1a1a" fill-opacity="1.00" filter="url(#b8)"/>
<rect x="417.45" y="483.20" width="17.50" height="4.40" rx="2.20" fill="#1a1a1a" fill-opacity="1.00" filter="url(#b8)"/>
</g></g>
<rect x="380.50" y="479.50" width="57.00" height="13.00" fill="none" stroke="#353535" stroke-width="1.15" />
<clipPath id="c445"><rect x="449.50" y="442.50" width="50.00" height="19.00"/></clipPath>
<g filter="url(#nz)">
<rect x="449.50" y="442.50" width="50.00" height="19.00" fill="#d2d2d2" stroke="none" stroke-width="0.8" />
<g clip-path="url(#c445)">
<rect x="450.40" y="454.50" width="14.00" height="2.80" rx="1.40" fill="#1a1a1a" fill-opacity="0.72" filter="url(#b8)"/>
<rect x="466.55" y="454.00" width="14.50" height="3.80" rx="1.90" fill="#1a1a1a" fill-opacity="0.92" filter="url(#b8)"/>
<rect x="483.00" y="454.80" width="14.00" height="2.60" rx="1.30" fill="#1a1a1a" fill-opacity="0.66" filter="url(#b8)"/>
<rect x="467.30" y="448.60" width="13.00" height="2.40" rx="1.20" fill="#1a1a1a" fill-opacity="0.12" filter="url(#b8)"/>
</g></g>
<rect x="449.50" y="442.50" width="50.00" height="19.00" fill="none" stroke="#353535" stroke-width="1.15" />
<clipPath id="c455"><rect x="449.50" y="464.50" width="50.00" height="12.00"/></clipPath>
<g filter="url(#nz)">
<rect x="449.50" y="464.50" width="50.00" height="12.00" fill="#c8c8c8" stroke="none" stroke-width="0.8" />
<g clip-path="url(#c455)">
<rect x="455.00" y="470.20" width="8.00" height="2.00" rx="1.00" fill="#1a1a1a" fill-opacity="0.25" filter="url(#b8)"/>
<rect x="466.75" y="469.70" width="14.50" height="3.00" rx="1.50" fill="#1a1a1a" fill-opacity="0.75" filter="url(#b8)"/>
<rect x="483.50" y="469.80" width="14.00" height="2.80" rx="1.40" fill="#1a1a1a" fill-opacity="0.72" filter="url(#b8)"/>
</g></g>
<rect x="449.50" y="464.50" width="50.00" height="12.00" fill="none" stroke="#353535" stroke-width="1.15" />
<clipPath id="c464"><rect x="449.50" y="479.50" width="50.00" height="13.00"/></clipPath>
<g filter="url(#nz)">
<rect x="449.50" y="479.50" width="50.00" height="13.00" fill="#cecece" stroke="none" stroke-width="0.8" />
<g clip-path="url(#c464)">
<rect x="449.50" y="487.30" width="14.00" height="2.20" rx="1.10" fill="#1a1a1a" fill-opacity="0.55" filter="url(#b8)" transform="rotate(-3 456.50 488.40)"/>
<rect x="466.30" y="486.70" width="15.00" height="2.20" rx="1.10" fill="#1a1a1a" fill-opacity="0.55" filter="url(#b8)" transform="rotate(-3 473.80 487.80)"/>
<rect x="483.50" y="485.90" width="14.00" height="2.20" rx="1.10" fill="#1a1a1a" fill-opacity="0.55" filter="url(#b8)" transform="rotate(-3 490.50 487.00)"/>
</g></g>
<rect x="449.50" y="479.50" width="50.00" height="13.00" fill="none" stroke="#353535" stroke-width="1.15" />
<text x="501.80" y="457.50" font-size="7.2" >Puma</text>
<text x="501.80" y="474.00" font-size="7.2" >p53</text>
<text x="501.80" y="488.70" font-size="7.2" >Actin</text>
<text x="212.90" y="501.30" font-size="7.2" >Etoposide</text>
<text x="257.80" y="501.30" font-size="7.2" text-anchor="middle" >0h</text>
<text x="275.40" y="501.30" font-size="7.2" text-anchor="middle" >3h</text>
<text x="293.20" y="501.30" font-size="7.2" text-anchor="middle" >6h</text>
<text x="321.50" y="501.30" font-size="7.2" text-anchor="middle" >0h</text>
<text x="339.10" y="501.30" font-size="7.2" text-anchor="middle" >3h</text>
<text x="357.00" y="501.30" font-size="7.2" text-anchor="middle" >6h</text>
<text x="390.30" y="501.30" font-size="7.2" text-anchor="middle" >0h</text>
<text x="407.80" y="501.30" font-size="7.2" text-anchor="middle" >3h</text>
<text x="427.90" y="501.30" font-size="7.2" text-anchor="middle" >6h</text>
<text x="457.90" y="501.30" font-size="7.2" text-anchor="middle" >0h</text>
<text x="475.40" y="501.30" font-size="7.2" text-anchor="middle" >3h</text>
<text x="491.50" y="501.30" font-size="7.2" text-anchor="middle" >6h</text>
<text x="313.80" y="519.90" font-size="7.2" text-anchor="middle" ><tspan font-style="italic">E&#956;-Myc/p53</tspan> mutant</text>
<line x1="249.20" y1="524.00" x2="370.20" y2="524.00" stroke="#000" stroke-width="0.8" />
<text x="312.30" y="531.90" font-size="7.2" text-anchor="middle" >Resistant</text>
<text x="444.00" y="519.90" font-size="7.2" text-anchor="middle" ><tspan font-style="italic">E&#956;-Myc</tspan></text>
<line x1="379.30" y1="524.00" x2="499.90" y2="524.00" stroke="#000" stroke-width="0.8" />
<text x="444.00" y="531.90" font-size="7.2" text-anchor="middle" >Sensitive</text></svg>
</body></html>
